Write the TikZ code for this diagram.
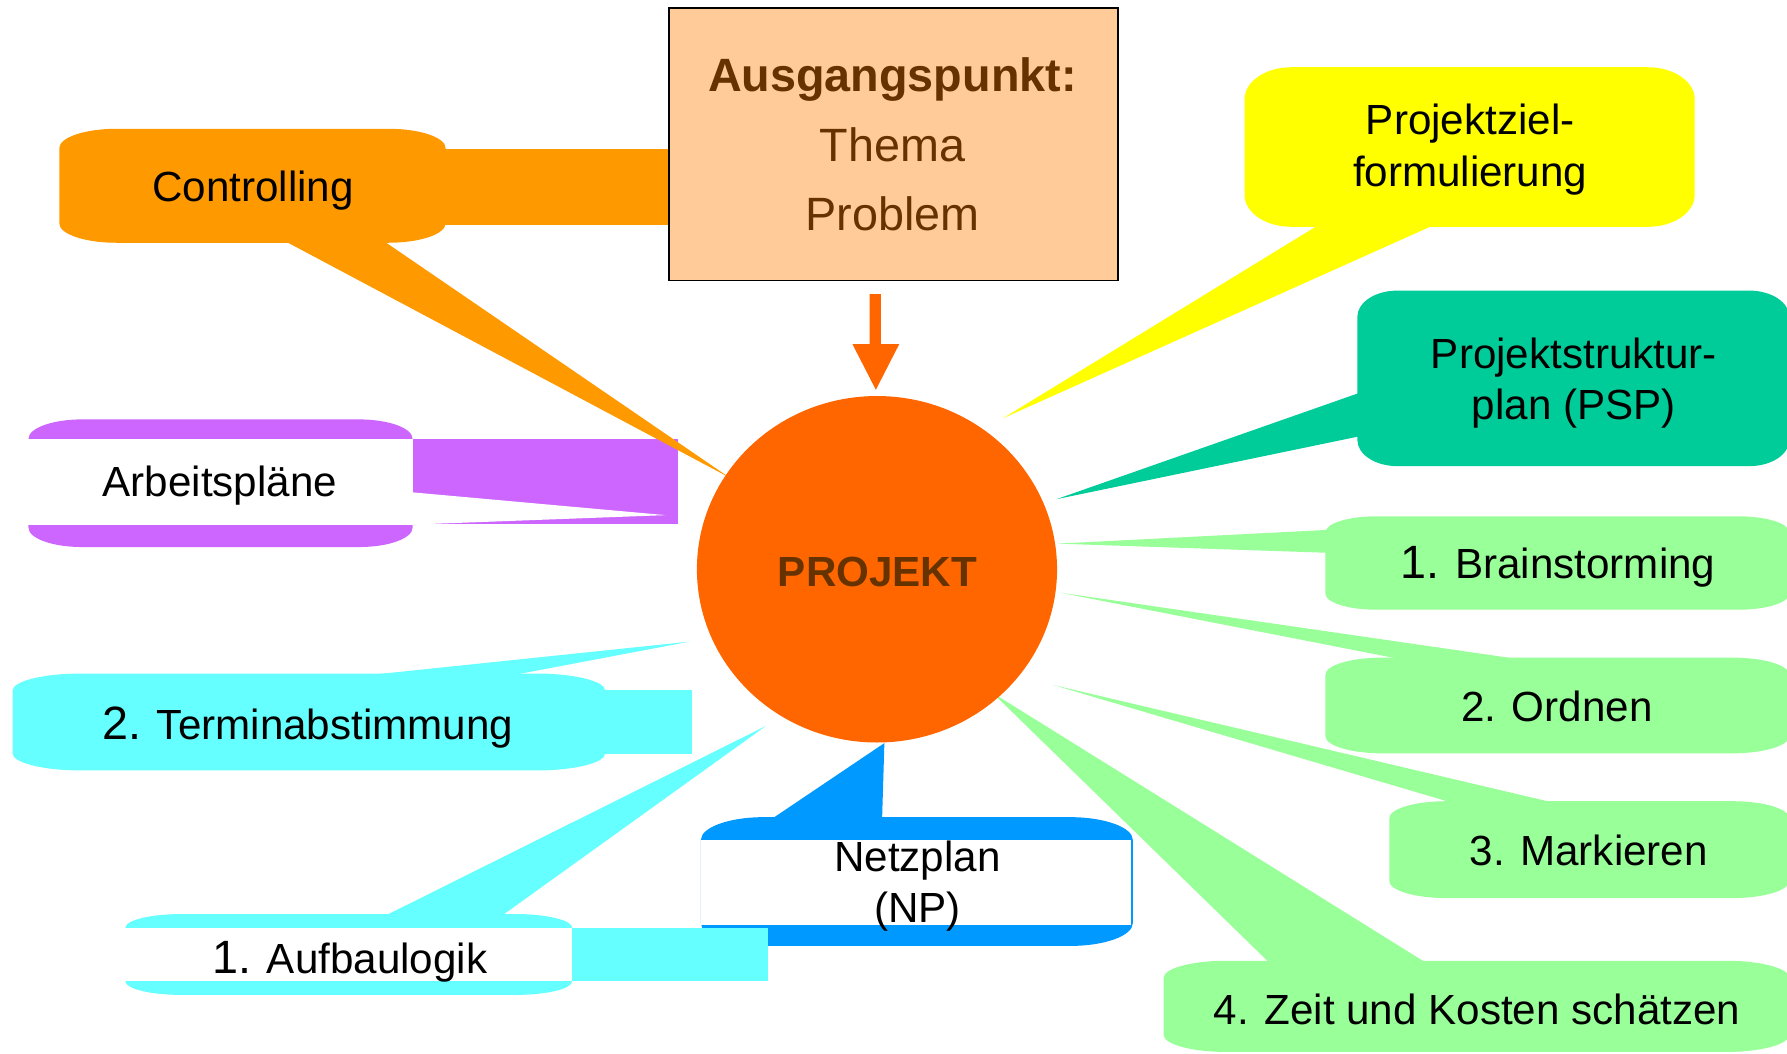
\documentclass[tikz,border=0pt]{standalone}
\usepackage{fontspec}
\setmainfont{Liberation Sans}
\usetikzlibrary{shapes.geometric}
\definecolor{corange}{HTML}{FF9900}
\definecolor{cproj}{HTML}{FF6600}
\definecolor{cbox}{HTML}{FFCC99}
\definecolor{cbrown}{HTML}{663300}
\definecolor{cpurple}{HTML}{CC66FF}
\definecolor{ccyan}{HTML}{66FFFF}
\definecolor{cblue}{HTML}{0099FF}
\definecolor{cyellow}{HTML}{FFFF00}
\definecolor{cteal}{HTML}{00CC99}
\definecolor{cgreen}{HTML}{99FF99}
% rounded rectangle with elliptical corners: colour, x1, y1, x2, y2, rx, ry
\newcommand\RRfill[7]{%
\fill[#1] ({#2+#6},#3) -- ({#4-#6},#3)
 .. controls ({#4-0.4477*#6},#3) and (#4,{#3+0.4477*#7}) .. (#4,{#3+#7})
 -- (#4,{#5-#7})
 .. controls (#4,{#5-0.4477*#7}) and ({#4-0.4477*#6},#5) .. ({#4-#6},#5)
 -- ({#2+#6},#5)
 .. controls ({#2+0.4477*#6},#5) and (#2,{#5-0.4477*#7}) .. (#2,{#5-#7})
 -- (#2,{#3+#7})
 .. controls (#2,{#3+0.4477*#7}) and ({#2+0.4477*#6},#3) .. ({#2+#6},#3) -- cycle;}
\tikzset{
  lbl/.style={anchor=base, inner sep=0pt, text=black, font=\fontsize{37}{46}\selectfont},
  boxlbl/.style={anchor=base, inner sep=0pt, text=cbrown, font=\fontsize{41}{50}\selectfont},
}
\newcommand\bignum[1]{{\fontsize{41}{46}\selectfont #1}}
\begin{document}
\begin{tikzpicture}[x=1pt,y=-1pt]
\useasboundingbox (0,0) rectangle (1568,924);
\clip (0,0) rectangle (1568,924);
\fill[white] (0,0) rectangle (1568,924);

% Arbeitsplaene (purple)
\RRfill{cpurple}{25}{368}{362}{480}{47}{17}
\fill[white] (25,385) rectangle (362,461);
\fill[cpurple] (362,385) rectangle (595,460);
\fill[white] (362,432) -- (584,452) -- (370,460) -- (362,460) -- cycle;

% Controlling (orange)
\RRfill{corange}{52}{113}{391}{213}{50}{17}
\fill[corange] (390,131) rectangle (588,197);
\coordinate (ctlA) at (249,211);
\coordinate (ctlB) at (336,211);
\coordinate (ctlT) at (640,419);
\fill[corange] (ctlA) -- (ctlT) -- (ctlB) -- cycle;

% 2. Terminabstimmung (cyan)
\RRfill{ccyan}{11}{591}{531}{676}{60}{15}
\fill[ccyan] (530,605) rectangle (607,662);
\coordinate (terA) at (327,592);
\coordinate (terB) at (452,592);
\coordinate (terT) at (605,563);
\fill[ccyan] (terA) -- (terT) -- (terB) -- cycle;

% Netzplan (blue)
\RRfill{cblue}{615}{717}{994}{830}{55}{20}
\fill[white] (615,737) rectangle (992,812);
\coordinate (npA) at (678,718);
\coordinate (npB) at (774,718);
\coordinate (npT) at (776,652);
\fill[cblue] (npA) -- (npT) -- (npB) -- cycle;

% 1. Aufbaulogik (cyan)
\RRfill{ccyan}{110}{802}{502}{873}{50}{12}
\fill[white] (110,814) rectangle (502,861);
\fill[ccyan] (502,814) rectangle (674,861);
\coordinate (aufA) at (339,803);
\coordinate (aufB) at (441,803);
\coordinate (aufT) at (672,637);
\fill[ccyan] (aufA) -- (aufT) -- (aufB) -- cycle;

% Projektzielformulierung (yellow)
\RRfill{cyellow}{1092}{59}{1487}{199}{41}{28}
\coordinate (pzA) at (1156,198);
\coordinate (pzB) at (1257,198);
\coordinate (pzT) at (880,367);
\fill[cyellow] (pzA) -- (pzT) -- (pzB) -- cycle;

% PSP (teal)
\RRfill{cteal}{1191}{255}{1570}{409}{35}{23}
\coordinate (pspA) at (1192,345);
\coordinate (pspB) at (1192,383);
\coordinate (pspT) at (927,438);
\fill[cteal] (pspA) -- (pspT) -- (pspB) -- cycle;

% green callouts
\RRfill{cgreen}{1163}{453}{1570}{535}{45}{14}
\fill[cgreen] (928,477) -- (1164,465) -- (1164,485) -- cycle;
\RRfill{cgreen}{1163}{577}{1570}{661}{50}{15}
\fill[cgreen] (930,520) -- (1330,578) -- (1227,578) -- cycle;
\RRfill{cgreen}{1219}{703}{1570}{788}{50}{15}
\fill[cgreen] (924,601) -- (1362,704) -- (1273,704) -- cycle;
\RRfill{cgreen}{1021}{843}{1570}{923}{55}{15}
\fill[cgreen] (871,608) -- (1250,844) -- (1113,844) -- cycle;

% centre
\node[ellipse, fill=cproj, minimum width=316pt, minimum height=304pt, inner sep=0pt] (projekt) at (769.5,499.5) {};
\fill[cproj] (763,258) -- (773,258) -- (773,302) -- (789,302) -- (768.5,342) -- (748,302) -- (763,302) -- cycle;
\filldraw[fill=cbox, draw=black, line width=1.2pt] (587,7) rectangle (981,246);

% texts
\node[boxlbl, font=\bfseries\fontsize{41}{50}\selectfont] (t-ausg) at (783,80) {Ausgangspunkt:};
\node[boxlbl] (t-thema) at (783,142) {Thema};
\node[boxlbl] (t-problem) at (783,202) {Problem};
\node[lbl, text=cbrown, font=\bfseries\fontsize{37}{46}\selectfont] (t-projekt) at (770,515) {PROJEKT};

\node[lbl] (t-ctl) at (222,177) {Controlling};
\node[lbl] (t-arb) at (193,436) {Arbeitspläne};
\node[lbl] (t-ter) at (270,649) {\bignum{2.} Terminabstimmung};
\node[lbl] (t-auf) at (307,854) {\bignum{1.} Aufbaulogik};
\node[lbl] (t-np1) at (805,765) {Netzplan};
\node[lbl] (t-np2) at (805,809) {(NP)};
\node[lbl] (t-pz1) at (1290,118) {Projektziel-};
\node[lbl] (t-pz2) at (1290,164) {formulierung};
\node[lbl] (t-psp1) at (1381,323) {Projektstruktur-};
\node[lbl] (t-psp2) at (1381,368) {plan (PSP)};
\node[lbl] (t-brain) at (1367,508) {\bignum{1.} Brainstorming};
\node[lbl] (t-ord) at (1366,633) {2. Ordnen};
\node[lbl] (t-mark) at (1394,759) {3. Markieren};
\node[lbl] (t-zeit) at (1296,899) {4. Zeit und Kosten schätzen};
\end{tikzpicture}
\end{document}
